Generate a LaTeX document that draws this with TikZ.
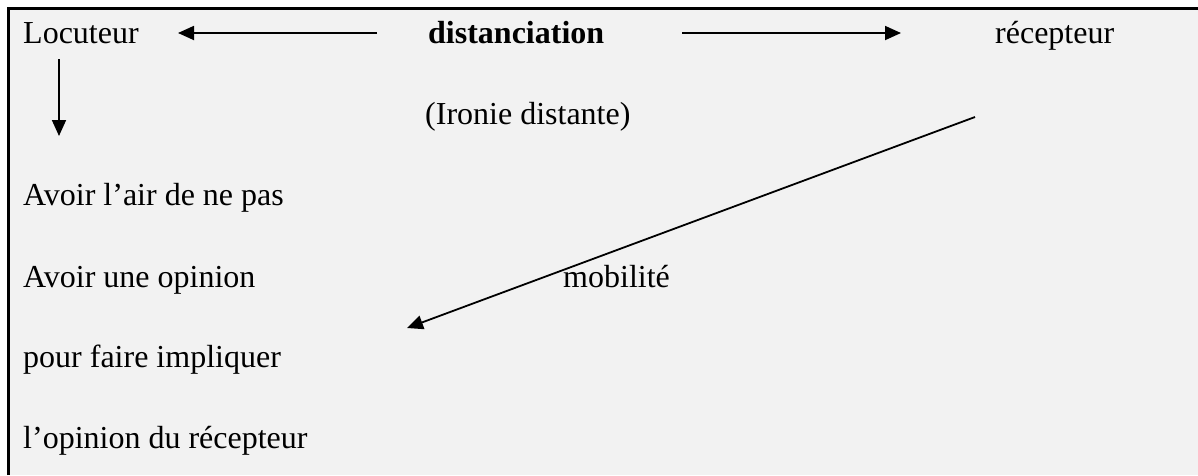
\documentclass[tikz,border=0pt]{standalone}
\usepackage{fontspec}
\setmainfont{Liberation Serif}
\usetikzlibrary{arrows.meta}
\begin{document}
\begin{tikzpicture}[x=1pt,y=-1pt,
  lbl/.style={anchor=base west,inner sep=0pt,font=\fontsize{32}{38}\selectfont},
  arr/.style={line width=1.8pt,-{Triangle[length=16pt,width=14pt]}}]
\useasboundingbox (0,0) rectangle (1198,475);
\fill[white] (0,0) rectangle (1198,475);
\fill[fill={rgb,255:red,242;green,242;blue,242}] (8,8) rectangle (1198,475);
\draw[line width=3pt] (8,475) -- (8,8) -- (1198,8);
\node[lbl] (loc) at (23,43) {Locuteur};
\node[lbl,font=\fontsize{32}{38}\selectfont\bfseries] (dist) at (428,43) {distanciation};
\node[lbl] (rec) at (995,43) {récepteur};
\node[lbl] (iron) at (425,124) {(Ironie distante)};
\node[lbl] (av1) at (23,205) {Avoir l’air de ne pas};
\node[lbl] (av2) at (23,287) {Avoir une opinion};
\node[lbl] (mob) at (563,287) {mobilité};
\node[lbl] (pour) at (23,367) {pour faire impliquer};
\node[lbl] (lop) at (23,448) {l’opinion du récepteur};
\coordinate (la) at (377,33);
\coordinate (lb) at (178,33);
\coordinate (ra) at (682,33);
\coordinate (rb) at (901,33);
\coordinate (da) at (59,59);
\coordinate (db) at (59,136);
\coordinate (ga) at (975,117);
\coordinate (gb) at (407,328);
\draw[arr] (la) -- (lb);
\draw[arr] (ra) -- (rb);
\draw[arr] (da) -- (db);
\draw[arr] (ga) -- (gb);
\end{tikzpicture}
\end{document}
